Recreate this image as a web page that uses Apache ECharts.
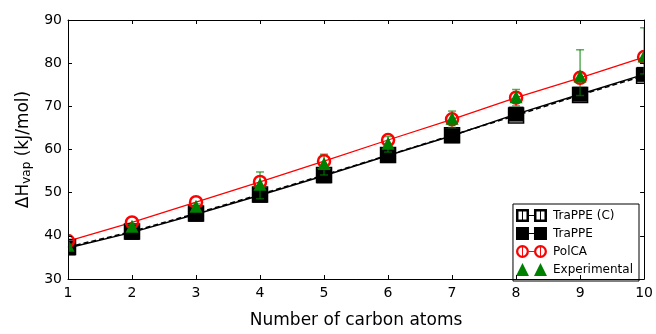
<!DOCTYPE html>
<html>
<head>
<meta charset="utf-8">
<script src="https://cdn.jsdelivr.net/npm/echarts@6/dist/echarts.min.js"></script>
<style>
  html, body { margin: 0; padding: 0; background: #fff; }
  #chart { width: 656px; height: 334px; }
</style>
</head>
<body>
<div id="chart"></div>
<script>
// number of carbon atoms
const carbons = [1, 2, 3, 4, 5, 6, 7, 8, 9, 10];
// enthalpy of vaporization, kJ/mol
const trappeC = [37.4, 41.0, 45.2, 49.6, 54.1, 58.7, 63.3, 67.9, 72.6, 77.1];
const trappe = [37.2, 40.8, 45.0, 49.4, 53.9, 58.6, 63.2, 68.2, 72.8, 77.4];
const polca = [38.8, 43.1, 47.8, 52.5, 57.3, 62.2, 67.0, 72.0, 76.6, 81.4];
const experimental = [37.6, 42.0, 46.6, 51.7, 56.5, 61.2, 67.0, 72.0, 76.8, 81.4];
// error bar ends for the experimental values
const expLow = [37.1, 41.4, 45.8, 48.6, 54.1, 59.4, 65.1, 70.1, 72.5, 77.5];
const expHigh = [38.1, 42.6, 47.4, 54.8, 58.9, 63.0, 68.9, 73.9, 83.1, 88.2];

const yTicks = [30, 40, 50, 60, 70, 80, 90];

const font = "DejaVu Sans";

function pairs(ys) {
  return carbons.map((c, i) => [c, ys[i]]);
}

// legend icons: two markers joined by a short line (31 x 13 box)
const iconOpenSq = "path://M0 0H13V13H0Z M2.5 2.5V10.5H10.5V2.5Z M6 2.5H7V10.5H6Z M13 6H18V7H13Z M18 0H31V13H18Z M20.5 2.5V10.5H28.5V2.5Z M24 2.5H25V10.5H24Z";
const iconSq = "path://M0 0H13V13H0Z M13 6H18V7H13Z M18 0H31V13H18Z";
const iconCircle = "path://M0 6.5A6.5 6.5 0 1 1 13 6.5A6.5 6.5 0 1 1 0 6.5Z M2.3 6.5A4.2 4.2 0 1 0 10.7 6.5A4.2 4.2 0 1 0 2.3 6.5Z M6 2.3H7V10.7H6Z M13 6H18V7H13Z M18 6.5A6.5 6.5 0 1 1 31 6.5A6.5 6.5 0 1 1 18 6.5Z M20.3 6.5A4.2 4.2 0 1 0 28.7 6.5A4.2 4.2 0 1 0 20.3 6.5Z M24 2.3H25V10.7H24Z";
const iconTri = "path://M0 13L6.5 0L13 13Z M18 13L24.5 0L31 13Z";

// clip everything to the plot frame, like the axes box does
function frameClip(params) {
  const cs = params.coordSys;
  return { type: "rect", shape: { x: cs.x, y: cs.y, width: cs.width, height: cs.height } };
}

// markers are drawn by custom series so they get cut at the frame
function markerSeries(name, ys, kind, z) {
  return {
    name: name,
    type: "custom",
    clip: false,
    data: pairs(ys),
    encode: { x: 0, y: 1 },
    z: z,
    renderItem: function (params, api) {
      const p = api.coord([api.value(0), api.value(1)]);
      const x = p[0], y = p[1];
      let el;
      if (kind === "openSquare") {
        el = { type: "rect", shape: { x: x - 7.5, y: y - 7.5, width: 15, height: 15 },
          style: { fill: "#fff", stroke: "#000", lineWidth: 1.5 } };
      } else if (kind === "square") {
        el = { type: "rect", shape: { x: x - 7.5, y: y - 7.5, width: 15, height: 15 },
          style: { fill: "#000" } };
      } else if (kind === "circle") {
        el = { type: "circle", shape: { cx: x, cy: y, r: 6 },
          style: { fill: "none", stroke: "#ff0000", lineWidth: 2.5 } };
      } else {
        el = { type: "polygon", shape: { points: [[x, y - 7.5], [x - 6.5, y + 5.5], [x + 6.5, y + 5.5]] },
          style: { fill: "#008000" } };
      }
      return { type: "group", clipPath: frameClip(params), children: [el] };
    },
  };
}

let option;

function initOpt() {
  option = {
    animation: false,
    backgroundColor: "#fff",
    textStyle: { fontFamily: font },
    grid: { left: 68, right: 11, top: 20, bottom: 49 },
    legend: {
      orient: "vertical",
      right: 17,
      bottom: 53,
      padding: [5, 6, 5, 3],
      itemGap: 5,
      itemWidth: 31,
      itemHeight: 13,
      borderColor: "#000",
      borderWidth: 1,
      borderRadius: 0,
      backgroundColor: "#fff",
      textStyle: { fontFamily: font, fontSize: 12, color: "#000", padding: [0, 0, 0, 1] },
      data: [
        { name: "TraPPE (C)", icon: iconOpenSq, itemStyle: { color: "#000" } },
        { name: "TraPPE", icon: iconSq, itemStyle: { color: "#000" } },
        { name: "PolCA", icon: iconCircle, itemStyle: { color: "#ff0000" } },
        { name: "Experimental", icon: iconTri, itemStyle: { color: "#008000" } },
      ],
    },
    xAxis: [
      {
        type: "value",
        min: 1,
        max: 10,
        interval: 1,
        name: "Number of carbon atoms",
        nameLocation: "middle",
        nameGap: 33,
        nameTextStyle: { fontFamily: font, fontSize: 17, color: "#000" },
        axisLine: { lineStyle: { color: "#000", width: 1 } },
        axisTick: { inside: true, length: 4, lineStyle: { color: "#000" } },
        axisLabel: { fontFamily: font, fontSize: 14, color: "#000", margin: 7 },
        splitLine: { show: false },
        z: 10,
      },
      {
        type: "value",
        position: "top",
        min: 1,
        max: 10,
        interval: 1,
        axisLine: { lineStyle: { color: "#000", width: 1 } },
        axisTick: { inside: true, length: 4, lineStyle: { color: "#000" } },
        axisLabel: { show: false },
        splitLine: { show: false },
        z: 10,
      },
    ],
    yAxis: [
      {
        type: "value",
        min: yTicks[0],
        max: yTicks[yTicks.length - 1],
        interval: 10,
        name: "{a|ΔH}{s|vap}{a| (kJ/mol)}",
        nameLocation: "middle",
        nameGap: 32,
        nameTextStyle: {
          rich: {
            a: { fontFamily: font, fontSize: 17, color: "#000", lineHeight: 22 },
            s: { fontFamily: font, fontSize: 12, color: "#000", lineHeight: 22, padding: [8, 0, 0, 0] },
          },
        },
        axisLine: { lineStyle: { color: "#000", width: 1 } },
        axisTick: { inside: true, length: 4, lineStyle: { color: "#000" } },
        axisLabel: { fontFamily: font, fontSize: 14, color: "#000", margin: 6 },
        splitLine: { show: false },
        z: 10,
      },
      {
        type: "value",
        position: "right",
        min: yTicks[0],
        max: yTicks[yTicks.length - 1],
        interval: 10,
        axisLine: { lineStyle: { color: "#000", width: 1 } },
        axisTick: { inside: true, length: 4, lineStyle: { color: "#000" } },
        axisLabel: { show: false },
        splitLine: { show: false },
        z: 10,
      },
    ],
    series: [
      {
        name: "TraPPE (C)",
        type: "line",
        data: pairs(trappeC),
        showSymbol: false,
        symbol: "none",
        lineStyle: { color: "#000", width: 1.5, type: [5, 3] },
        z: 2,
      },
      {
        name: "TraPPE",
        type: "line",
        data: pairs(trappe),
        showSymbol: false,
        symbol: "none",
        lineStyle: { color: "#000", width: 1.5 },
        z: 2,
      },
      {
        name: "PolCA",
        type: "line",
        data: pairs(polca),
        showSymbol: false,
        symbol: "none",
        lineStyle: { color: "#ff0000", width: 1.3 },
        z: 2,
      },
      markerSeries("TraPPE (C)", trappeC, "openSquare", 3),
      markerSeries("TraPPE", trappe, "square", 4),
      {
        name: "Experimental",
        type: "custom",
        clip: false,
        data: carbons.map((c, i) => [c, expLow[i], expHigh[i]]),
        encode: { x: 0, y: [1, 2] },
        z: 5,
        renderItem: function (params, api) {
          const lo = api.coord([api.value(0), api.value(1)]);
          const hi = api.coord([api.value(0), api.value(2)]);
          const cap = 4;
          const st = { stroke: "rgba(0,128,0,0.65)", lineWidth: 1.5 };
          return {
            type: "group",
            clipPath: frameClip(params),
            children: [
              { type: "line", shape: { x1: lo[0], y1: lo[1], x2: hi[0], y2: hi[1] }, style: st },
              { type: "line", shape: { x1: hi[0] - cap, y1: hi[1], x2: hi[0] + cap, y2: hi[1] }, style: st },
              { type: "line", shape: { x1: lo[0] - cap, y1: lo[1], x2: lo[0] + cap, y2: lo[1] }, style: st },
            ],
          };
        },
      },
      markerSeries("PolCA", polca, "circle", 6),
      markerSeries("Experimental", experimental, "triangle", 7),
    ],
  };
}

function initView() {
  initOpt();
  const chartDom = document.getElementById("chart");
  const chart = echarts.init(chartDom);
  option && chart.setOption(option);
}

initView();
</script>
</body>
</html>
